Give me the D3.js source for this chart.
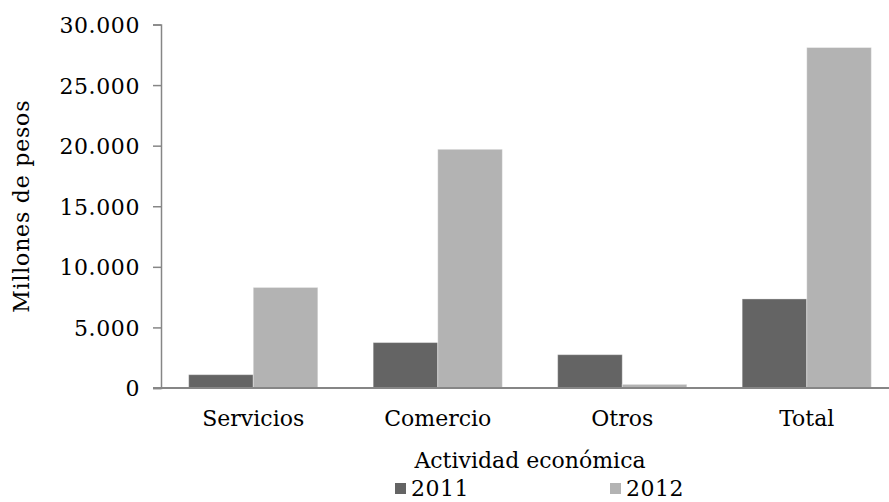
<!DOCTYPE html>
<html>
<head>
<meta charset="utf-8">
<script src="https://cdn.jsdelivr.net/npm/d3@7"></script>
<style>
  html, body { margin: 0; padding: 0; background: #fff; }
  svg text { font-family: "DejaVu Serif", serif; fill: #000; }
</style>
</head>
<body>
<svg id="chart" width="889" height="502"></svg>
<script>
// Economic activity categories and yearly amounts (millions of pesos)
const categories = ["Servicios", "Comercio", "Otros", "Total"];
const series = ["2011", "2012"];
const values2011 = [1100, 3750, 2750, 7350];
const values2012 = [8300, 19700, 300, 28100];
const yTicks = [0, 5000, 10000, 15000, 20000, 25000, 30000];
const colors = { "2011": "#646464", "2012": "#b3b3b3" };

const rows = categories.map((c, i) => ({ cat: c, "2011": values2011[i], "2012": values2012[i] }));

const svg = d3.select("#chart");
const margin = { left: 161, right: -10, top: 24.5, bottom: 114 };
const W = 889, H = 502;
const plotLeft = margin.left, plotRight = W - margin.right;
const plotTop = margin.top, plotBottom = H - margin.bottom;

const locale = d3.formatLocale({ decimal: ",", thousands: ".", grouping: [3], currency: ["$", ""] });
const fmt = locale.format(",d");

const x0 = d3.scaleBand().domain(categories).range([plotLeft, plotRight])
  .paddingInner(0.3).paddingOuter(0.15);
const x1 = d3.scaleBand().domain(series).range([0, x0.bandwidth()]);
const y = d3.scaleLinear().domain([0, 30000]).range([plotBottom, plotTop]);

// Bars
const groups = svg.append("g").selectAll("g").data(rows).join("g")
  .attr("transform", d => `translate(${x0(d.cat)},0)`);
groups.selectAll("rect").data(d => series.map(s => ({ s, v: d[s] }))).join("rect")
  .attr("x", d => x1(d.s))
  .attr("width", x1.bandwidth())
  .attr("y", d => y(d.v))
  .attr("height", d => y(0) - y(d.v))
  .attr("fill", d => colors[d.s])
  .attr("stroke", "#ffffff")
  .attr("stroke-opacity", 0.35)
  .attr("stroke-width", 1);

// Y axis
const yAxis = d3.axisLeft(y).tickValues(yTicks).tickFormat(fmt).tickSize(8).tickPadding(13);
const gy = svg.append("g").attr("transform", `translate(${plotLeft},0)`).call(yAxis);
gy.select(".domain").attr("stroke", "#868686").attr("stroke-width", 1.5);
gy.selectAll(".tick line").attr("stroke", "#868686").attr("stroke-width", 1.5);
gy.selectAll(".tick text").style("font-size", "22px").style("font-family", "DejaVu Serif, serif")
  .attr("fill", "#000").attr("letter-spacing", "0.6px").attr("dy", "0.36em");

// X axis baseline
const xAxis = d3.axisBottom(x0).tickSize(0).tickPadding(0);
const gx = svg.append("g").attr("transform", `translate(0,${y(0)})`).call(xAxis);
gx.select(".domain").remove();
gx.append("line").attr("x1", plotLeft - 8).attr("x2", plotRight)
  .attr("stroke", "#868686").attr("stroke-width", 1.8);
gx.selectAll(".tick text").style("font-size", "22px").style("font-family", "DejaVu Serif, serif")
  .attr("fill", "#000").attr("dy", null).attr("y", 38);

// Axis titles
svg.append("text")
  .attr("x", (plotLeft + plotRight) / 2).attr("y", 468)
  .attr("text-anchor", "middle").style("font-size", "22px")
  .text("Actividad económica");

svg.append("text")
  .attr("transform", `translate(29,${(plotTop + plotBottom) / 2}) rotate(-90)`)
  .attr("text-anchor", "middle").style("font-size", "22px")
  .attr("letter-spacing", "0.8px")
  .text("Millones de pesos");

// Legend
const legendX = [395, 610];
const lg = svg.append("g").selectAll("g").data(series).join("g")
  .attr("transform", (d, i) => `translate(${legendX[i]},0)`);
lg.append("rect").attr("x", 0).attr("y", 483).attr("width", 11).attr("height", 11)
  .attr("fill", d => colors[d]);
lg.append("text").attr("x", 16).attr("y", 496).style("font-size", "22px")
  .attr("letter-spacing", "0.5px").text(d => d);
</script>
</body>
</html>
